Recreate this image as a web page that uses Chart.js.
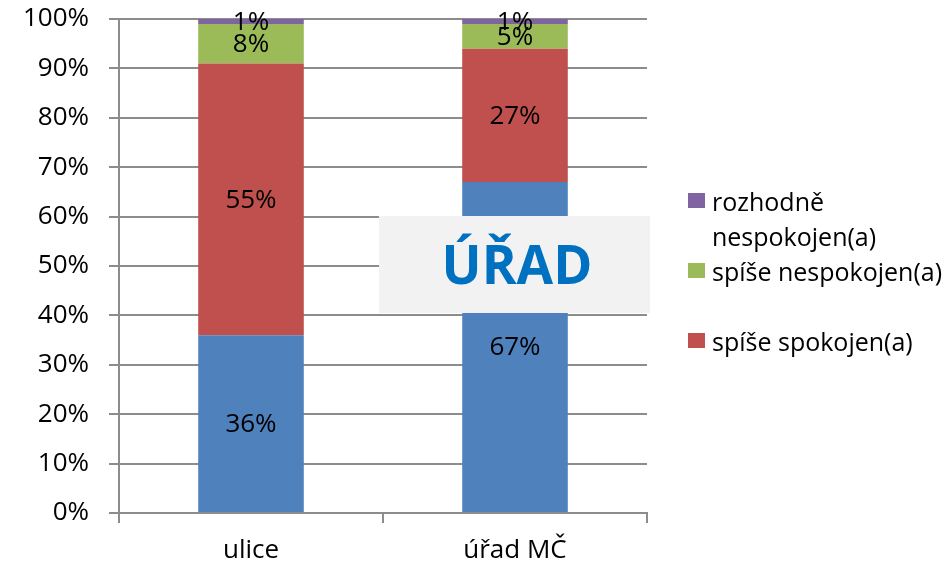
<!DOCTYPE html>
<html>
<head>
<meta charset="utf-8">
<script src="https://cdn.jsdelivr.net/npm/chart.js@4.4.0/dist/chart.umd.min.js"></script>
<style>
  body { margin: 0; background: #fff; }
  #wrap { position: relative; width: 951px; height: 569px; font-family: "Open Sans", sans-serif; }
  #legend { position: absolute; left: 688px; top: 184px; }
  .item { display: flex; align-items: flex-start; height: 70px; }
  .box { width: 17px; height: 15px; margin-top: 9px; margin-right: 7px; flex: none; }
  .txt { font-size: 25px; line-height: 35px; color: #000; width: 245px; }
</style>
</head>
<body>
<div id="wrap">
  <canvas id="c" width="951" height="569"></canvas>
  <div id="legend"></div>
</div>
<script>
const categories = ['ulice', 'úřad MČ'];
const seriesNames = ['rozhodně spokojen(a)', 'spíše spokojen(a)', 'spíše nespokojen(a)', 'rozhodně nespokojen(a)'];
const seriesColors = ['#4f81bd', '#c0504d', '#9bbb59', '#8064a2'];
const rozhodneSpokojen = [36, 67];
const spiseSpokojen = [55, 27];
const spiseNespokojen = [8, 5];
const rozhodneNespokojen = [1, 1];
const yTicks = [0, 10, 20, 30, 40, 50, 60, 70, 80, 90, 100];

const FONT = '"Open Sans", sans-serif';
const allValues = [rozhodneSpokojen, spiseSpokojen, spiseNespokojen, rozhodneNespokojen];

// popisky hodnot uprostred segmentu
const valueLabels = {
  id: 'valueLabels',
  afterDatasetsDraw(chart) {
    const ctx = chart.ctx;
    ctx.save();
    ctx.font = '26px ' + FONT;
    ctx.fillStyle = '#000';
    ctx.textAlign = 'center';
    ctx.textBaseline = 'middle';
    chart.data.datasets.forEach((ds, i) => {
      chart.getDatasetMeta(i).data.forEach((el, j) => {
        ctx.fillText(ds.data[j] + '%', el.x, (el.y + el.base) / 2 + 1);
      });
    });
    ctx.restore();
  }
};

// sedy ramecek s napisem
const overlay = {
  id: 'overlay',
  afterDraw(chart) {
    const ctx = chart.ctx;
    ctx.save();
    ctx.fillStyle = '#f2f2f2';
    ctx.fillRect(379, 216, 271, 97);
    ctx.fillStyle = '#0070c0';
    ctx.font = 'bold 53px ' + FONT;
    ctx.textAlign = 'center';
    ctx.textBaseline = 'alphabetic';
    ctx.fillText('ÚŘAD', 517, 284);
    ctx.restore();
  }
};

const chart = new Chart(document.getElementById('c'), {
  type: 'bar',
  data: {
    labels: categories,
    datasets: allValues.map((vals, i) => ({
      label: seriesNames[i],
      data: vals,
      backgroundColor: seriesColors[i],
      borderWidth: 0,
      barPercentage: 0.4,
      categoryPercentage: 1
    }))
  },
  options: {
    responsive: false,
    animation: false,
    layout: { padding: { top: 19, right: 304, left: 0, bottom: 0 } },
    plugins: { legend: { display: false }, tooltip: { enabled: false } },
    scales: {
      x: {
        stacked: true,
        grid: { drawOnChartArea: false, offset: true, tickLength: 10, color: '#8c8c8c', lineWidth: 2 },
        border: { color: '#8c8c8c', width: 2 },
        ticks: { color: '#000', font: { family: FONT, size: 26 }, padding: 12 },
        afterFit(s) { s.height = 56; s.paddingLeft = 0; s.paddingRight = 0; }
      },
      y: {
        stacked: true,
        min: 0,
        max: 100,
        afterBuildTicks(s) { s.ticks = yTicks.map(v => ({ value: v })); },
        grid: { color: '#8c8c8c', lineWidth: 2, tickLength: 10 },
        border: { color: '#8c8c8c', width: 2 },
        ticks: { color: '#000', font: { family: FONT, size: 26 }, padding: 20, callback: v => v + '%' },
        afterFit(s) { s.width = 119; s.paddingTop = 0; s.paddingBottom = 0; }
      }
    }
  },
  plugins: [valueLabels, overlay]
});

// legenda - modra rada v originale chybi
const legend = document.getElementById('legend');
for (let i = seriesNames.length - 1; i >= 1; i--) {
  const item = document.createElement('div');
  item.className = 'item';
  item.innerHTML = '<div class="box" style="background:' + seriesColors[i] + '"></div><div class="txt">' + seriesNames[i] + '</div>';
  legend.appendChild(item);
}
</script>
</body>
</html>
